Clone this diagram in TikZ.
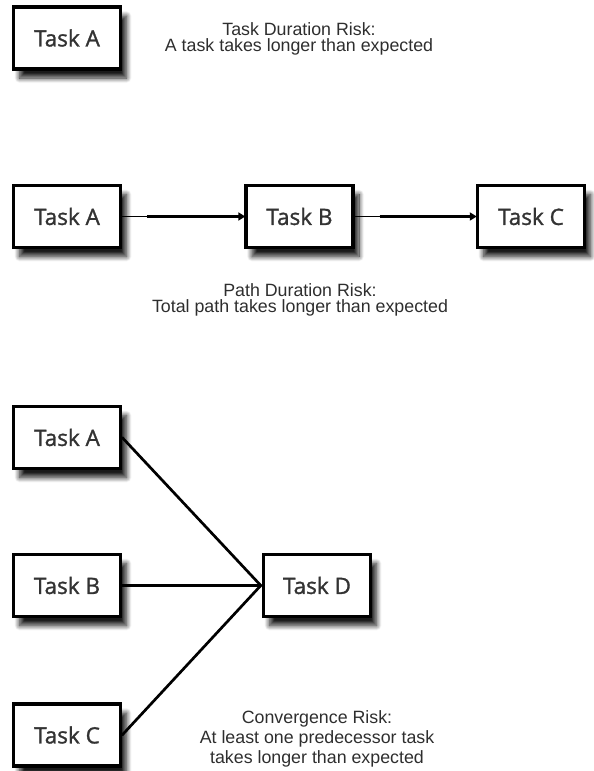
\documentclass[tikz,border=0pt]{standalone}
\usepackage{fontspec}
\setmainfont{Liberation Sans}
\newfontfamily\taskfont[FakeBold=1.3]{Open Sans}
\usetikzlibrary{arrows.meta,calc,shadows.blur}

\definecolor{inkgray}{HTML}{2E2E2E}
\definecolor{boxink}{HTML}{333333}

% fixed baseline spacing for the risk captions
\newcommand\captionlines[1]{\fontsize{17.8}{#1}\selectfont
  \lineskiplimit=-20pt\relax\lineskip=0pt\relax}

\tikzset{
  taskbox/.style={
    draw=black, line width=3.4pt, fill=white,
    minimum width=107pt, minimum height=62pt, inner sep=0pt,
    font=\taskfont\fontsize{22.5}{24}\selectfont, text=boxink,
    blur shadow={shadow xshift=6pt, shadow yshift=-9pt,
                 shadow blur steps=12, shadow blur radius=5pt,
                 shadow opacity=90}
  },
  risklabel/.style={
    anchor=north, align=center, inner sep=0pt, text=inkgray,
    font=\captionlines{16}
  },
  leadline/.style={line width=1.4pt, draw=black},
  patharrow/.style={line width=3.6pt, draw=black,
    -{Triangle[length=7pt,width=8pt]}, shorten >=-1pt},
  joinline/.style={line width=2.7pt, draw=black, line cap=round}
}

\begin{document}
\begin{tikzpicture}[x=1pt, y=-1pt]
  \useasboundingbox (0,0) rectangle (594,771);

  % Task duration risk
  \node[taskbox] (tA) at (67,38) {Task A};
  \node[risklabel] (tRisk) at (299,22.5)
    {Task Duration Risk:\\A task takes longer than expected};

  % Path duration risk
  \node[taskbox] (pA) at (67,216.5) {Task A};
  \node[taskbox] (pB) at (299.5,216.5) {Task B};
  \node[taskbox] (pC) at (531,216.5) {Task C};
  \draw[leadline] (pA.east) -- (pB.west);
  \draw[patharrow] ($(pA.east)+(25,0)$) -- (pB.west);
  \draw[leadline] (pB.east) -- (pC.west);
  \draw[patharrow] ($(pB.east)+(25,0)$) -- (pC.west);
  \node[risklabel] (pRisk) at (300,283.5)
    {Path Duration Risk:\\Total path takes longer than expected};

  % Convergence risk
  \node[taskbox] (cA) at (67,437.5) {Task A};
  \node[taskbox] (cB) at (67,585.5) {Task B};
  \node[taskbox] (cC) at (67,735) {Task C};
  \node[taskbox] (cD) at (317,585.5) {Task D};
  \coordinate (cJoin) at ($(cD.west)+(-1,0)$);
  \draw[joinline] (cA.east) -- (cJoin);
  \draw[joinline] (cB.east) -- (cJoin);
  \draw[joinline] (cC.east) -- (cJoin);
  \node[risklabel, font=\captionlines{20}] (cRisk) at (317,710)
    {Convergence Risk:\\At least one predecessor task\\takes longer than expected};
\end{tikzpicture}
\end{document}
